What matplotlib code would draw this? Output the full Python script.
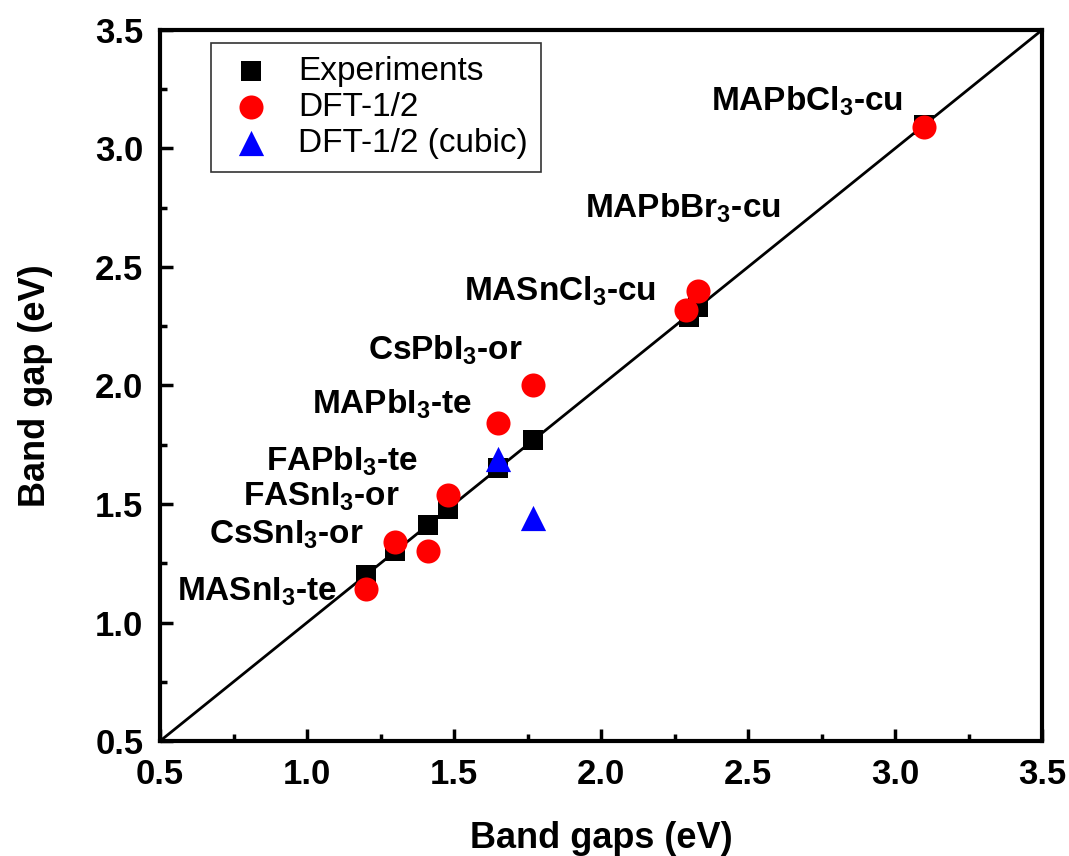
import matplotlib
matplotlib.use("Agg")
import matplotlib.pyplot as plt

plt.rcParams['font.family'] = ['Liberation Sans', 'DejaVu Sans']
plt.rcParams['mathtext.fontset'] = 'custom'
plt.rcParams['mathtext.bf'] = 'Liberation Sans:bold'
plt.rcParams['mathtext.rm'] = 'Liberation Sans'

exp_x = [1.20, 1.30, 1.41, 1.48, 1.65, 1.77, 2.30, 2.33, 3.10]
exp_y = [1.20, 1.30, 1.41, 1.48, 1.65, 1.77, 2.29, 2.33, 3.10]

dft_x = [1.20, 1.30, 1.41, 1.48, 1.65, 1.77, 2.29, 2.33, 3.10]
dft_y = [1.14, 1.34, 1.30, 1.54, 1.84, 2.00, 2.32, 2.40, 3.09]

cub_x = [1.65, 1.77]
cub_y = [1.69, 1.44]

labels = [r"MAPbCl$_\mathbf{3}$-cu", r"MAPbBr$_\mathbf{3}$-cu", r"MASnCl$_\mathbf{3}$-cu",
          r"CsPbI$_\mathbf{3}$-or", r"MAPbI$_\mathbf{3}$-te", r"FAPbI$_\mathbf{3}$-te",
          r"FASnI$_\mathbf{3}$-or", r"CsSnI$_\mathbf{3}$-or", r"MASnI$_\mathbf{3}$-te"]
label_x = [2.70, 2.28, 1.86, 1.47, 1.29, 1.12, 1.05, 0.93, 0.83]
label_y = [3.20, 2.75, 2.40, 2.15, 1.92, 1.68, 1.53, 1.37, 1.13]

fig = plt.figure(figsize=(10.69, 8.56), dpi=100)
ax = fig.add_axes([0.1497, 0.1343, 0.8251, 0.8307])

ax.plot([0.5, 3.5], [0.5, 3.5], color='black', lw=2, zorder=1)
ax.scatter(exp_x, exp_y, marker='s', s=200, color='black', zorder=2, label='Experiments', linewidths=0)
ax.scatter(dft_x, dft_y, marker='o', s=300, color='#ff0000', zorder=3, label='DFT-1/2', linewidths=0)
ax.scatter(cub_x, cub_y, marker='^', s=330, color='#0000ff', zorder=4, label='DFT-1/2 (cubic)', linewidths=0)

for t, x, y in zip(labels, label_x, label_y):
    ax.text(x, y, t, ha='center', va='center', fontsize=24, fontweight='bold')

ax.set_xlim(0.5, 3.5)
ax.set_ylim(0.5, 3.5)
ticks = [0.5, 1.0, 1.5, 2.0, 2.5, 3.0, 3.5]
ax.set_xticks(ticks)
ax.set_yticks(ticks)
ax.set_xticklabels([f"{t:.1f}" for t in ticks], fontsize=25, fontweight='bold')
ax.set_yticklabels([f"{t:.1f}" for t in ticks], fontsize=25, fontweight='bold')
ax.set_xticks([0.75, 1.25, 1.75, 2.25, 2.75, 3.25], minor=True)
ax.set_yticks([0.75, 1.25, 1.75, 2.25, 2.75, 3.25], minor=True)
ax.tick_params(which='major', direction='in', width=2.5, length=9, pad=12)
ax.tick_params(which='minor', direction='in', width=2.5, length=5)
for s in ax.spines.values():
    s.set_linewidth(3)

ax.set_xlabel('Band gaps (eV)', fontsize=26, fontweight='bold', labelpad=22)
ax.set_ylabel('Band gap (eV)', fontsize=26, fontweight='bold', labelpad=30)

leg = ax.legend(loc='upper left', bbox_to_anchor=(0.058, 0.982), fontsize=24, frameon=True,
                fancybox=False, edgecolor='black', handletextpad=0.6, handlelength=1.6,
                borderpad=0.4, labelspacing=0.15, scatterpoints=1, borderaxespad=0)
leg.get_frame().set_linewidth(1.2)

fig.savefig('out.png', dpi=100)
